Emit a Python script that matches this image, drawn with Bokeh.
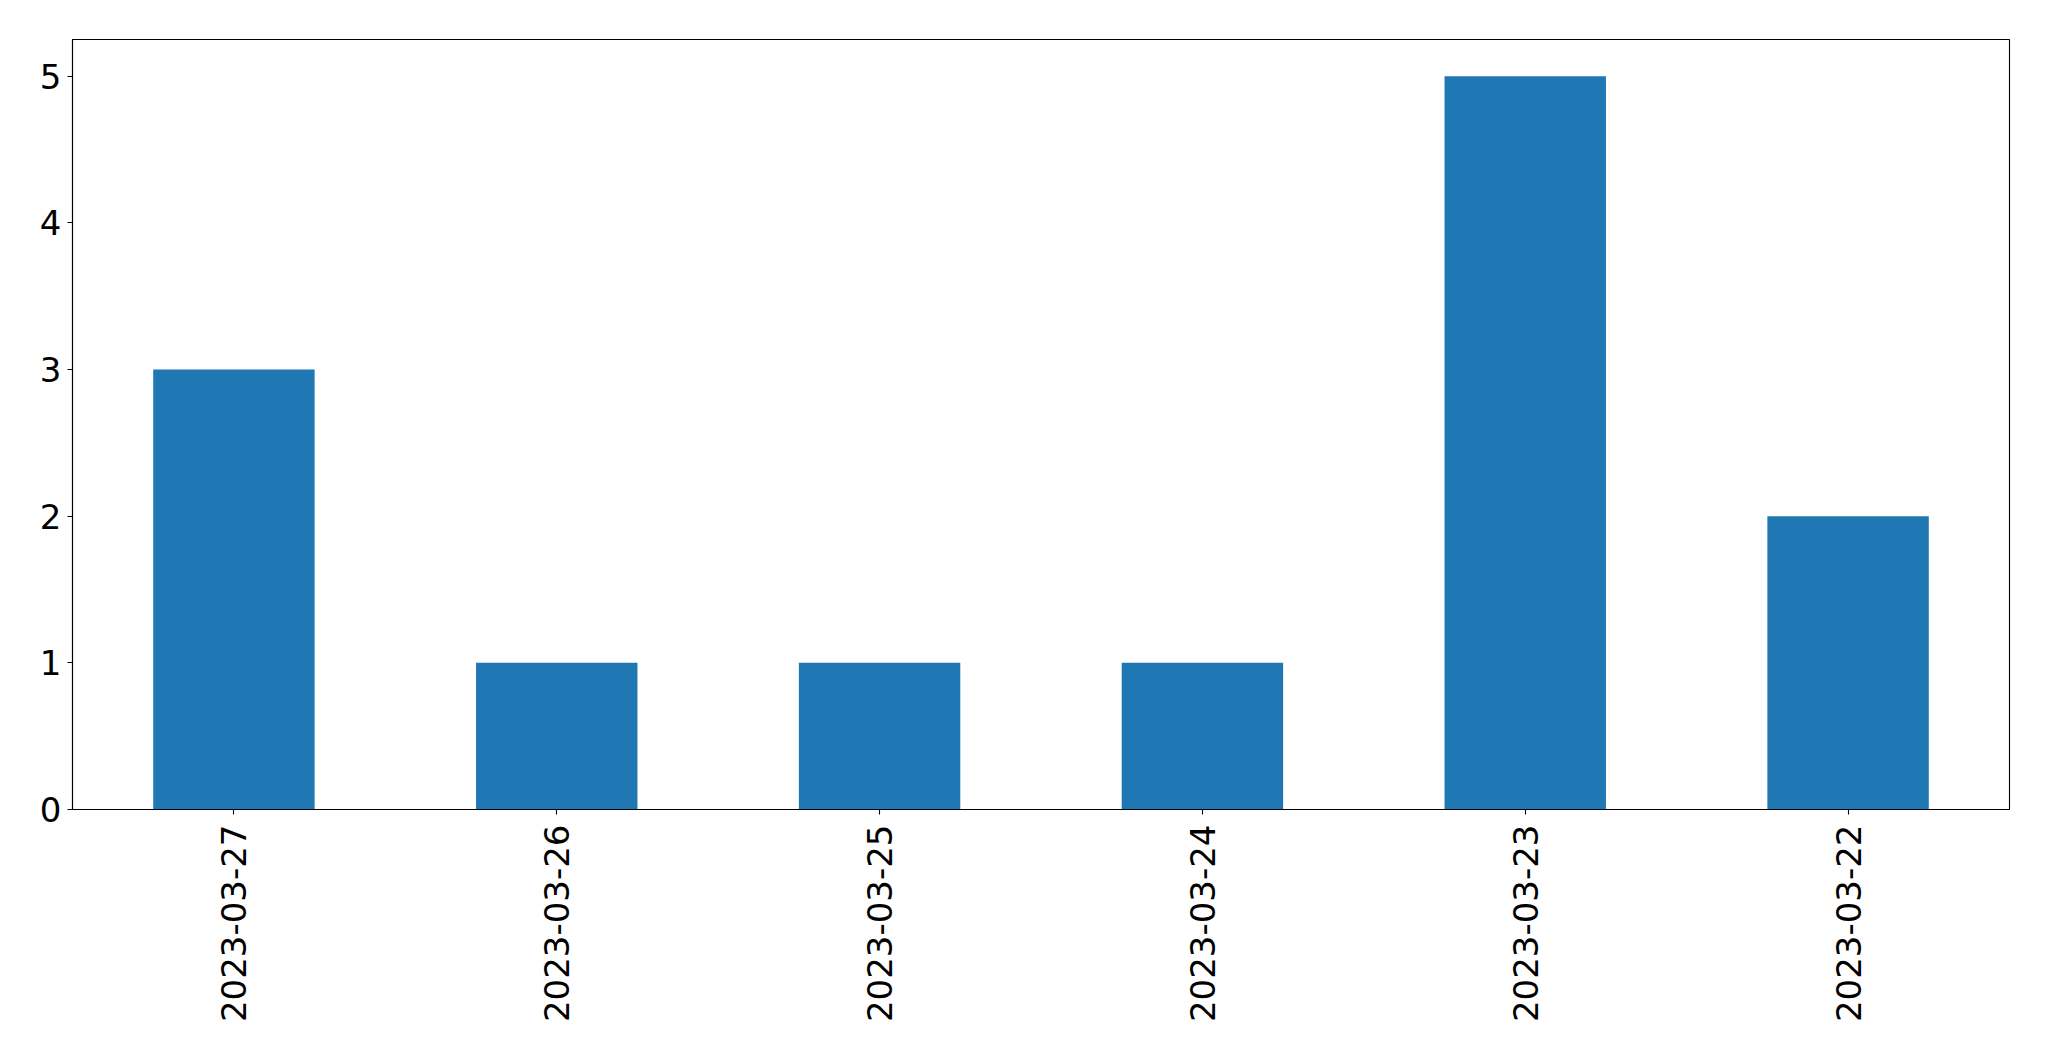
from bokeh.plotting import figure
from bokeh.models import FactorRange, Range1d, FixedTicker, ColumnDataSource
from bokeh.embed import file_html
from bokeh.resources import INLINE
import math

dates = ["2023-03-27", "2023-03-26", "2023-03-25", "2023-03-24", "2023-03-23", "2023-03-22"]
counts = [3, 1, 1, 1, 5, 2]
y_ticks = [0, 1, 2, 3, 4, 5]

source = ColumnDataSource(data=dict(dates=dates, counts=counts))

p = figure(width=2033, height=1045, output_backend="svg", toolbar_location=None,
           x_range=FactorRange(factors=dates, range_padding=0),
           y_range=Range1d(0, 5.25),
           min_border_left=72, min_border_right=24, min_border_top=39, min_border_bottom=236)

p.vbar(x="dates", top="counts", width=0.5, bottom=0, source=source,
       fill_color="#1f77b4", line_color=None)

p.xgrid.visible = False
p.ygrid.visible = False
p.outline_line_color = "black"
p.outline_line_width = 1.1
p.background_fill_color = "white"
p.border_fill_color = "white"

for ax in (p.xaxis[0], p.yaxis[0]):
    ax.major_label_text_font = "DejaVu Sans"
    ax.major_label_text_font_size = "34px"
    ax.major_label_text_color = "black"
    ax.axis_line_color = "black"
    ax.axis_line_width = 1.1
    ax.major_tick_line_color = "black"
    ax.major_tick_line_width = 1.1
    ax.major_tick_in = 0
    ax.major_tick_out = 5
    ax.minor_tick_line_color = None

p.yaxis[0].ticker = FixedTicker(ticks=y_ticks)
p.yaxis[0].major_label_standoff = 6
p.xaxis[0].major_label_orientation = math.pi / 2
p.xaxis[0].major_label_standoff = 10

open("out.html", "w").write(file_html(p, INLINE))
